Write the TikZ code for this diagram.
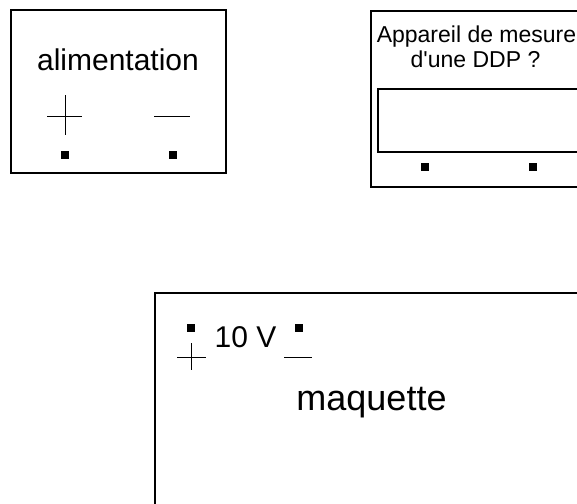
\documentclass[tikz,border=0pt]{standalone}
\usepackage{fontspec}
\setmainfont{Liberation Sans}
\newfontfamily\plainsans{Liberation Sans}
\begin{document}
\begin{tikzpicture}[x=0.5pt, y=-0.5pt, line width=0.6pt,
    box/.style={draw, rectangle, inner sep=0pt},
    plug/.style={fill, rectangle, minimum size=3.8pt, inner sep=0pt},
    sign/.style={line width=0.45pt}]
    \useasboundingbox (0,0) rectangle (577,503);
    \clip (0,0) rectangle (577,503);

    % alimentation
    \node[box, minimum width=107.5pt, minimum height=81.5pt] (alim) at (118.5,91.5) {};
    \node[anchor=base, font=\fontsize{15}{18}\selectfont] (alim_txt) at (118,70) {alimentation};
    \node[plug] (alim_plus) at (65,155) {};
    \node[plug] (alim_minus) at (173,155) {};
    \draw[sign] (65,95) -- (65,135) (47,116) -- (82,116);
    \draw[sign] (154,116) -- (190,116);

    % appareil de mesure
    \node[box, minimum width=134.5pt, minimum height=88pt] (app) at (505.5,99) {};
    \node[anchor=base, font=\plainsans\fontsize{11.5}{12.5}\selectfont] (app_txt) at (476.5,42) {Appareil de mesure};
    \node[anchor=base, font=\plainsans\fontsize{11.5}{12.5}\selectfont] (ddp_txt) at (475.5,67) {d'une DDP ?};
    \node[box, minimum width=131pt, minimum height=31.5pt] (screen) at (509,120.5) {};
    \node[plug] (app_a) at (425,167) {};
    \node[plug] (app_b) at (533,167) {};

    % maquette
    \node[box, minimum width=242.5pt, minimum height=133.5pt] (maq) at (397.5,426.5) {};
    \node[anchor=base, font=\fontsize{18}{21}\selectfont] (maq_txt) at (371.5,410) {maquette};
    \node[anchor=base, font=\fontsize{15}{18}\selectfont] (volt) at (245.5,347) {10 V};
    \node[plug] (maq_plus) at (191,328) {};
    \node[plug] (maq_minus) at (299,328) {};
    \draw[sign] (191.5,343) -- (191.5,370) (177,357) -- (206,357);
    \draw[sign] (284,357) -- (312,357);
\end{tikzpicture}
\end{document}
